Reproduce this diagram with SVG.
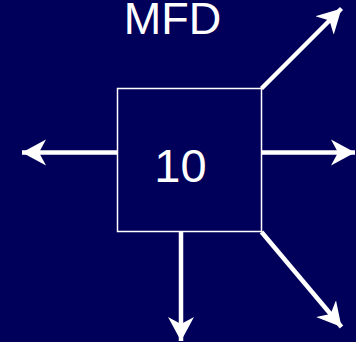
<svg xmlns="http://www.w3.org/2000/svg" width="356" height="342" viewBox="0 0 356 342">
<defs>
<style>
.t{font-family:"Liberation Sans",Arial,sans-serif;fill:#fff;text-anchor:middle}
.c{stroke:#fff;stroke-width:4.5;fill:none;marker-end:url(#ah)}
</style>
<marker id="ah" markerUnits="userSpaceOnUse" viewBox="-24 -14 26 28" refX="0" refY="0" markerWidth="26" markerHeight="28" orient="auto">
<path d="M0,0 L-24,-13 L-17,0 L-24,13 Z" fill="#fff"/>
</marker>
</defs>
<rect width="356" height="342" fill="#00005A"/>
<text class="t" x="172.5" y="34" font-size="45">MFD</text>
<g id="node-10">
<rect x="117.5" y="88.5" width="144" height="143" fill="none" stroke="#fff" stroke-width="1.5"/>
<text class="t" x="180.5" y="182" font-size="47">10</text>
</g>
<g id="connectors">
<line class="c" x1="117" y1="152.5" x2="22" y2="152.5"/>
<line class="c" x1="262" y1="152.5" x2="355" y2="152.5"/>
<line class="c" x1="181" y1="232" x2="181" y2="341"/>
<line class="c" x1="261.5" y1="88.5" x2="341.5" y2="8.5"/>
<line class="c" x1="261.5" y1="232" x2="341.5" y2="327"/>
</g>
</svg>
